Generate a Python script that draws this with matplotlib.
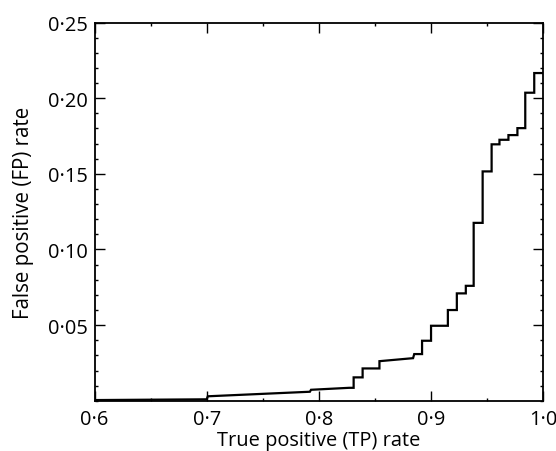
import numpy as np
import matplotlib
matplotlib.use("Agg")
import matplotlib.pyplot as plt
from matplotlib.ticker import MultipleLocator, FixedLocator, FixedFormatter

plt.rcParams["font.family"] = ["Open Sans", "DejaVu Sans"]

# Curve vertices (TP rate, FP rate)
tp_rate = [0.600, 0.700, 0.701, 0.792, 0.793, 0.827, 0.831, 0.831, 0.839, 0.839,
           0.854, 0.854, 0.884, 0.885, 0.892, 0.892, 0.900, 0.900, 0.915, 0.915,
           0.923, 0.923, 0.931, 0.931, 0.938, 0.938, 0.946, 0.946, 0.954, 0.954,
           0.961, 0.961, 0.969, 0.969, 0.977, 0.977, 0.984, 0.984, 0.992, 0.992,
           1.000]
fp_rate = [0.0005, 0.0010, 0.0030, 0.0060, 0.0073, 0.0086, 0.0086, 0.0155, 0.0155, 0.0214,
           0.0214, 0.0262, 0.0282, 0.0309, 0.0309, 0.0397, 0.0397, 0.0496, 0.0496, 0.0600,
           0.0600, 0.0710, 0.0710, 0.0760, 0.0760, 0.1176, 0.1176, 0.1516, 0.1516, 0.1695,
           0.1695, 0.1725, 0.1725, 0.1756, 0.1756, 0.1802, 0.1802, 0.2036, 0.2036, 0.2166,
           0.2166]

x_ticks = [0.6, 0.7, 0.8, 0.9, 1.0]
x_labels = ["0·6", "0·7", "0·8", "0·9", "1·0"]
y_ticks = [0.05, 0.10, 0.15, 0.20, 0.25]
y_labels = ["0·05", "0·10", "0·15", "0·20", "0·25"]

fig = plt.figure(figsize=(5.56, 4.52), dpi=100)
ax = fig.add_axes([0.170, 0.111, 0.807, 0.837])

ax.plot(tp_rate, fp_rate, color="black", lw=1.6, solid_joinstyle="miter")

ax.set_xlim(0.6, 1.0)
ax.set_ylim(0, 0.25)
ax.xaxis.set_major_locator(FixedLocator(x_ticks))
ax.xaxis.set_major_formatter(FixedFormatter(x_labels))
ax.yaxis.set_major_locator(FixedLocator(y_ticks))
ax.yaxis.set_major_formatter(FixedFormatter(y_labels))
ax.xaxis.set_minor_locator(MultipleLocator(0.05))
ax.yaxis.set_minor_locator(MultipleLocator(0.01))

ax.tick_params(which="both", direction="in", top=True, right=True, width=1.0,
               labelsize=14.4, pad=5)
ax.tick_params(axis="x", which="major", pad=6)
ax.tick_params(which="major", length=7.5)
ax.tick_params(which="minor", length=2.5)
for s in ax.spines.values():
    s.set_linewidth(1.3)

ax.set_xlabel("True positive (TP) rate", fontsize=14.4, labelpad=0.5)
ax.set_ylabel("False positive (FP) rate", fontsize=14.8, labelpad=10)

fig.savefig("out.png", dpi=100)
